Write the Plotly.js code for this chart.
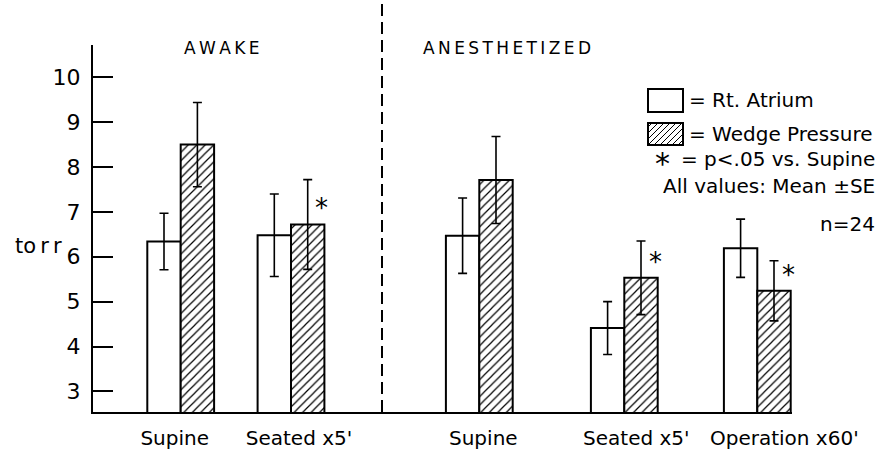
<!DOCTYPE html>
<html>
<head>
<meta charset="utf-8">
<script src="https://cdn.plot.ly/plotly-3.0.1.min.js"></script>
<style>html,body{margin:0;padding:0;background:#fff;}#chart{width:885px;height:450px;}</style>
</head>
<body>
<div id="chart"></div>
<script>
// ---- data ----
const categories = ["Supine", "Seated x5'", "Supine", "Seated x5'", "Operation x60'"];
const groupPos = [87.7, 198, 386.3, 531.3, 664.3];   // category positions along the x axis
const raMean = [6.34, 6.48, 6.47, 4.41, 6.19];
const raSE   = [0.63, 0.92, 0.84, 0.59, 0.65];
const wpMean = [8.50, 6.72, 7.71, 5.53, 5.24];
const wpSE   = [0.94, 1.00, 0.97, 0.82, 0.67];
const significant = [false, true, false, true, true];
const yTicks = [3, 4, 5, 6, 7, 8, 9, 10];

// ---- layout constants ----
const W = 885, H = 450;
const M = {l: 93, r: 93, t: 45, b: 38};
const PW = W - M.l - M.r, PH = H - M.t - M.b;
const BW = 33.4;
const labelShift = [-6, 8, 4, 12, 27];   // horizontal nudge of category labels (px)
const FONT = "DejaVu Sans";
const px = x => (x - M.l) / PW;          // pixel -> paper x
const py = y => (H - M.b - y) / PH;      // pixel -> paper y

const raTrace = {
  type: 'bar', name: 'Rt. Atrium', x: groupPos, y: raMean,
  width: BW, offset: -BW,
  marker: {color: '#ffffff', line: {color: '#000', width: 2}},
  error_y: {type: 'data', array: raSE, visible: true, color: '#000', thickness: 1.6, width: 4.5},
  showlegend: false, hoverinfo: 'skip'
};
const wpTrace = {
  type: 'bar', name: 'Wedge Pressure', x: groupPos, y: wpMean,
  width: BW, offset: 0,
  marker: {color: '#ffffff', line: {color: '#000', width: 2},
           pattern: {shape: '/', fgcolor: '#000', bgcolor: '#fff', size: 6, solidity: 0.2}},
  error_y: {type: 'data', array: wpSE, visible: true, color: '#000', thickness: 1.6, width: 4.5},
  showlegend: false, hoverinfo: 'skip'
};

const annotations = [];
const shapes = [];
const ann = (x, y, text, size, xa, extra) => Object.assign({
  x: px(x), y: py(y), xref: 'paper', yref: 'paper', text: text, showarrow: false,
  xanchor: xa || 'center', yanchor: 'middle', font: {family: FONT, size: size, color: '#000'}}, extra || {});

// significance asterisks from data
significant.forEach((s, i) => {
  if (!s) return;
  annotations.push({x: groupPos[i] + BW * 0.92, y: wpMean[i], xref: 'x', yref: 'y',
    xanchor: 'center', yanchor: 'middle',
    text: '*', showarrow: false, yshift: 16, font: {family: FONT, size: 26, color: '#000'}});
});

// section headers
annotations.push(ann(222, 48, 'A\u2009W\u2009A\u2009K\u2009E', 17));
annotations.push(ann(507, 48, 'A\u2009N\u2009E\u2009S\u2009T\u2009H\u2009E\u2009T\u2009I\u2009Z\u2009E\u2009D', 17));
annotations.push(ann(38, 246, 'to\u2009r\u2009r', 21));

// dashed divider
shapes.push({type: 'line', xref: 'paper', yref: 'paper', x0: px(382), x1: px(382), y0: 0, y1: py(0),
  line: {color: '#000', width: 2, dash: '12px,6px'}});

// legend
shapes.push({type: 'rect', xref: 'paper', yref: 'paper', x0: px(648), x1: px(683), y0: py(112), y1: py(89),
  line: {color: '#000', width: 2}, fillcolor: '#fff'});
annotations.push(ann(687, 100, '= Rt. Atrium', 20, 'left'));
const hb = {x0: 648, x1: 683, y0: 123, y1: 145};
let d = '';
for (let c = hb.x0 + hb.y0 + 4; c < hb.x1 + hb.y1; c += 6) {
  const xa = Math.max(hb.x0, c - hb.y1), xb = Math.min(hb.x1, c - hb.y0);
  if (xb <= xa) continue;
  d += `M${px(xa)},${py(c - xa)}L${px(xb)},${py(c - xb)}`;
}
shapes.push({type: 'path', xref: 'paper', yref: 'paper', path: d, line: {color: '#000', width: 1}});
shapes.push({type: 'rect', xref: 'paper', yref: 'paper', x0: px(hb.x0), x1: px(hb.x1), y0: py(hb.y1), y1: py(hb.y0),
  line: {color: '#000', width: 2}});
annotations.push(ann(687, 134, '= Wedge Pressure', 20, 'left'));
annotations.push(ann(662, 163, '*', 30));
annotations.push(ann(877, 159, '= p<.05 vs. Supine', 20, 'right'));
annotations.push(ann(877, 186, 'All values: Mean \u00b1SE', 20, 'right'));
annotations.push(ann(877, 224, 'n=24', 20, 'right'));

const layout = {
  width: W, height: H, margin: M,
  paper_bgcolor: '#fff', plot_bgcolor: '#fff',
  barmode: 'overlay', showlegend: false,
  font: {family: FONT, color: '#000'},
  xaxis: {range: [0, PW], showgrid: false, zeroline: false, showline: true, linecolor: '#000', linewidth: 2,
          tickmode: 'array', tickvals: groupPos.map((p, i) => p + labelShift[i]), ticktext: categories, ticks: '',
          tickfont: {family: FONT, size: 20, color: '#000'}, ticklabelstandoff: 7, fixedrange: true},
  yaxis: {range: [2.54, 10.72], showgrid: false, zeroline: false, showline: true, linecolor: '#000', linewidth: 2,
          tickmode: 'array', tickvals: yTicks, ticks: 'inside', ticklen: 20, tickwidth: 2, tickcolor: '#000',
          tickfont: {family: FONT, size: 22, color: '#000'}, ticklabelstandoff: 6, fixedrange: true},
  shapes: shapes, annotations: annotations
};

Plotly.newPlot('chart', [raTrace, wpTrace], layout, {staticPlot: true});
</script>
</body>
</html>
